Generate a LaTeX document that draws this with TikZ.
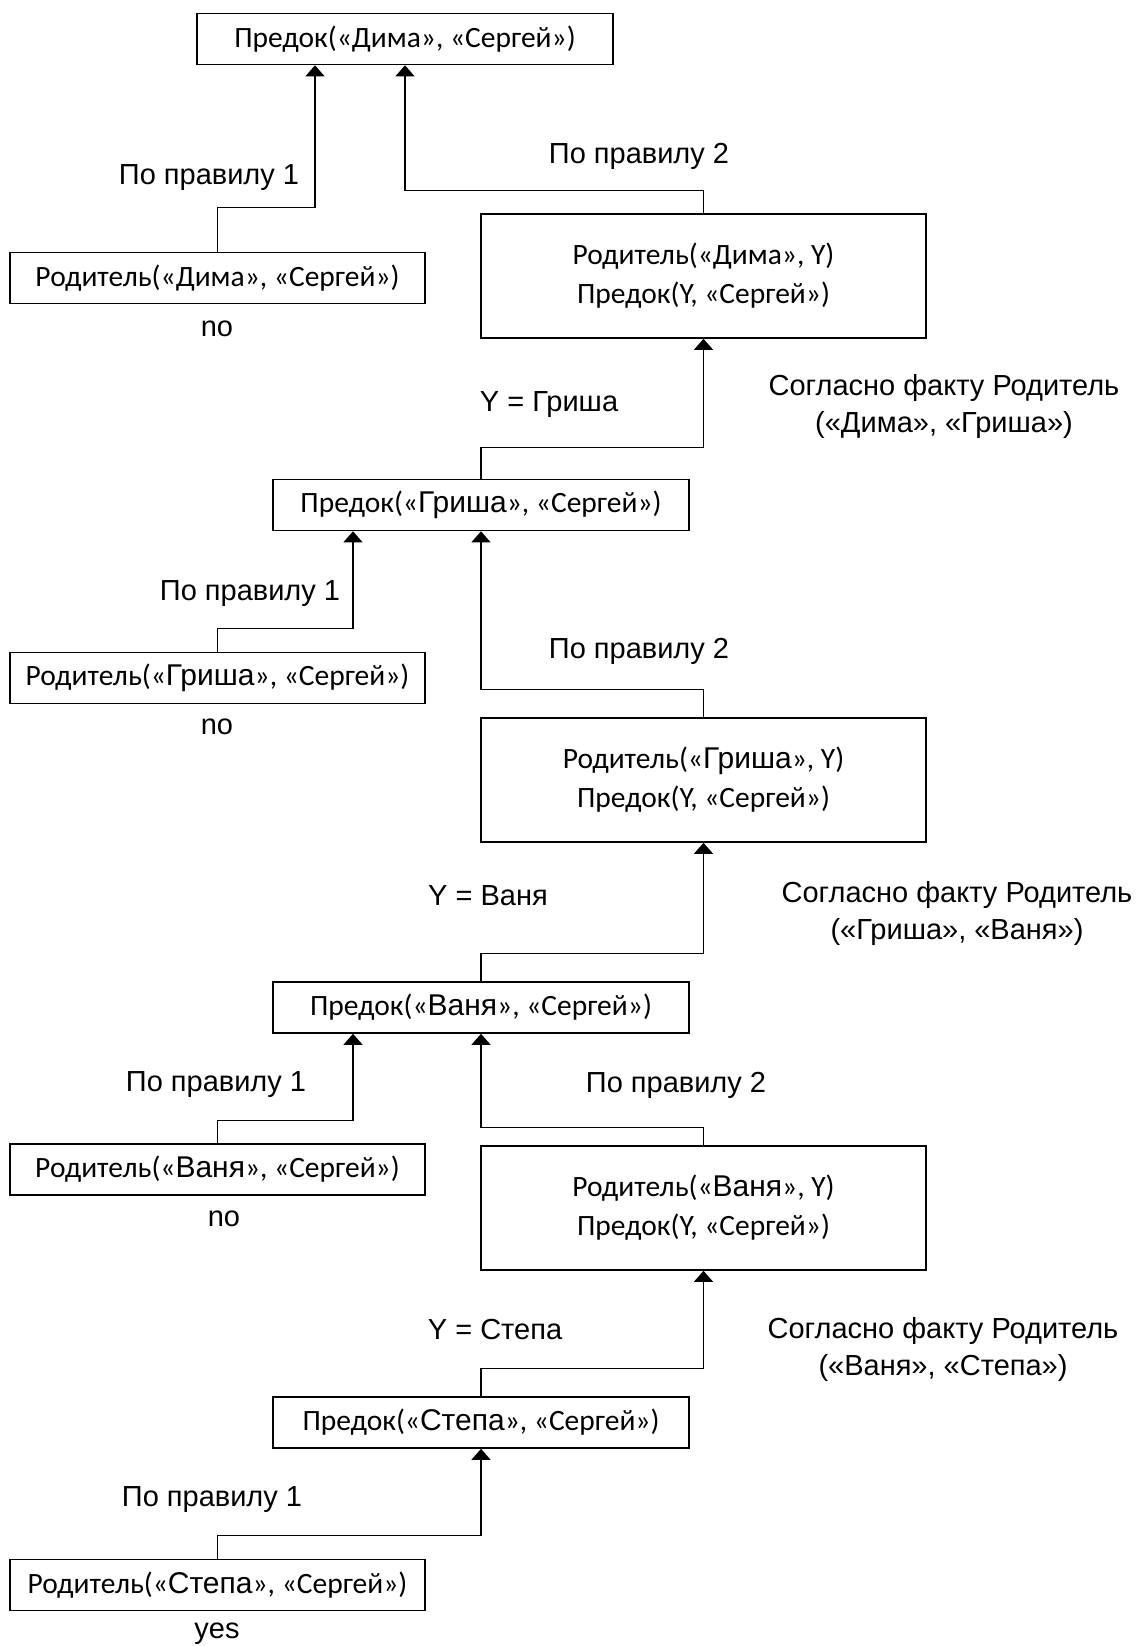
\documentclass[tikz,border=0pt]{standalone}
\usepackage{fontspec}
\setmainfont{Carlito}
\newfontfamily\arialfont{Liberation Sans}
\usetikzlibrary{arrows.meta, calc}
\newcommand\nm[1]{{\arialfont\fontsize{30}{39}\selectfont #1}}
\tikzstyle{goal} = [draw=black, line width=1.6pt, minimum width=416pt, minimum height=51pt, inner sep=0pt, font=\fontsize{29.5}{39}\selectfont]
\tikzstyle{fact} = [goal, minimum width=415pt]
\tikzstyle{pair} = [goal, minimum width=445pt, minimum height=124pt, align=center]
\tikzstyle{lbl} = [inner sep=0pt, align=center, font=\arialfont\fontsize{29}{37}\selectfont]
\tikzstyle{arrow} = [line width=1.2pt, -{Triangle[width=19pt,length=11pt]}]

\begin{document}
\begin{tikzpicture}[x=1pt, y=-1pt]
\useasboundingbox (0,0) rectangle (1141,1646);
\node[goal] (p1) at (405,39) {Предок(«Дима», «Сергей»)};
\node[fact] (r1) at (217.5,278) {Родитель(«Дима», «Сергей»)};
\node[pair] (b1) at (703.5,276) {Родитель(«Дима», Y)\\Предок(Y, «Сергей»)};
\node[goal] (p2) at (481,505) {Предок(«\nm{Гриша}», «Сергей»)};
\node[fact] (r2) at (217.5,678) {Родитель(«\nm{Гриша}», «Сергей»)};
\node[pair] (b2) at (703.5,780) {Родитель(«\nm{Гриша}», Y)\\Предок(Y, «Сергей»)};
\node[goal] (p3) at (481,1007.5) {Предок(«\nm{Ваня}», «Сергей»)};
\node[fact] (r3) at (217.5,1169.5) {Родитель(«\nm{Ваня}», «Сергей»)};
\node[pair] (b3) at (703.5,1208) {Родитель(«\nm{Ваня}», Y)\\Предок(Y, «Сергей»)};
\node[goal] (p4) at (481,1422.5) {Предок(«\nm{Степа}», «Сергей»)};
\node[fact] (r4) at (217.5,1585) {Родитель(«\nm{Степа}», «Сергей»)};

\draw[arrow] (r1.north) -- ++(0,-44) -| ([xshift=-90pt]p1.south);
\draw[arrow] (b1.north) -- ++(0,-23) -| (p1.south);
\draw[arrow] (p2.north) -- ++(0,-31) -| (b1.south);
\draw[arrow] (r2.north) -- ++(0,-23) -| ([xshift=-128pt]p2.south);
\draw[arrow] (b2.north) -- ++(0,-28) -| (p2.south);
\draw[arrow] (p3.north) -- ++(0,-28) -| (b2.south);
\draw[arrow] (r3.north) -- ++(0,-23) -| ([xshift=-128pt]p3.south);
\draw[arrow] (b3.north) -- ++(0,-18) -| (p3.south);
\draw[arrow] (p4.north) -- ++(0,-28) -| (b3.south);
\draw[arrow] (r4.north) -- ++(0,-23) -| (p4.south);

\node[lbl] (l1) at (209,178) {По правилу 1};
\node[lbl] (l2) at (639,156) {По правилу 2};
\node[lbl] (n1) at (217,329) {no};
\node[lbl] (y1) at (549,405) {Y = Гриша};
\node[lbl] (f1) at (944,406) {Согласно факту Родитель\\(«Дима», «Гриша»)};
\node[lbl] (l3) at (250,594) {По правилу 1};
\node[lbl] (l4) at (639,651) {По правилу 2};
\node[lbl] (n2) at (217,727) {no};
\node[lbl] (y2) at (488,896) {Y = Ваня};
\node[lbl] (f2) at (957,913) {Согласно факту Родитель\\(«Гриша», «Ваня»)};
\node[lbl] (l5) at (216,1085) {По правилу 1};
\node[lbl] (l6) at (676,1085) {По правилу 2};
\node[lbl] (n3) at (224,1219) {no};
\node[lbl] (y3) at (495,1330) {Y = Степа};
\node[lbl] (f3) at (943,1349) {Согласно факту Родитель\\(«Ваня», «Степа»)};
\node[lbl] (l7) at (212,1500) {По правилу 1};
\node[lbl] (n4) at (217,1634) {yes};
\end{tikzpicture}
\end{document}
